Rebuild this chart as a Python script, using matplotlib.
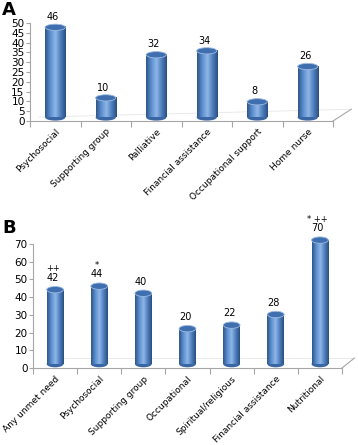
import numpy as np
import matplotlib.pyplot as plt
from matplotlib.patches import Ellipse
from matplotlib.colors import LinearSegmentedColormap

# panel A data
cats_a = ['Psychosocial', 'Supporting group', 'Palliative', 'Financial assistance',
          'Occupational support', 'Home nurse']
vals_a = [46, 10, 32, 34, 8, 26]

# panel B data
cats_b = ['Any unmet need', 'Psychosocial', 'Supporting group', 'Occupational',
          'Spiritual/religious', 'Financial assistance', 'Nutritional']
vals_b = [42, 44, 40, 20, 22, 28, 70]
marks_b = ['++', '*', '', '', '', '', '* ++']

cmap = LinearSegmentedColormap.from_list('cyl', ['#2f5688', '#5b8fd0', '#8fb6e6', '#4f7fbf', '#2a4f80'])
grad = np.linspace(0, 1, 64).reshape(1, -1)


def cylinder_bars(ax, vals, width, lift, eh):
    for i, v in enumerate(vals):
        x0, x1 = i - width / 2, i + width / 2
        bot, top = lift, v + lift
        ax.add_patch(Ellipse((i, bot), width, eh, facecolor='#3a67a3', edgecolor='none',
                             zorder=2, clip_on=False))
        ax.imshow(grad, extent=(x0, x1, bot, top), aspect='auto', cmap=cmap, zorder=3,
                  clip_on=False)
        ax.add_patch(Ellipse((i, top), width, eh, facecolor='#3f6fae', edgecolor='#9cbbe3',
                             lw=0.6, zorder=4, clip_on=False))


def style_axes(ax, n, ymax, step):
    ax.set_xlim(-0.5, n - 0.5)
    ax.set_ylim(0, ymax)
    ax.set_yticks(np.arange(0, ymax + 1, step))
    ax.set_xticks(np.arange(-0.5, n, 1.0))
    ax.set_xticklabels([])
    for s in ['top', 'right']:
        ax.spines[s].set_visible(False)
    for s in ['left', 'bottom']:
        ax.spines[s].set_color('#a6a6a6')
        ax.spines[s].set_linewidth(0.8)
    ax.tick_params(axis='both', colors='#a6a6a6', length=3, width=0.8, labelsize=7.5,
                   labelcolor='black', pad=1)
    ax.tick_params(axis='x', length=4)


fig = plt.figure(figsize=(3.58, 4.45), dpi=100)

# ---- A
ax1 = fig.add_axes([30 / 358, 1 - 121 / 445, 303 / 358, 98 / 445])
style_axes(ax1, len(vals_a), 50, 5)
cylinder_bars(ax1, vals_a, 0.4, 1.8, 3.2)
ax1.set_xlim(-0.5, len(vals_a) - 0.5)
ax1.set_ylim(0, 50)
for i, v in enumerate(vals_a):
    ax1.text(i - 0.05, v + 4.5, str(v), ha='center', va='bottom', fontsize=7)
for i, c in enumerate(cats_a):
    ax1.text(i + 0.0, -3, c, rotation=45, ha='right', va='top', rotation_mode='anchor',
             fontsize=6.5)
ax1.plot([1, 1.06], [0, 0.12], transform=ax1.transAxes, color='#a6a6a6', lw=0.8, clip_on=False)
ax1.plot([0.03, 1.06], [0.04, 0.12], transform=ax1.transAxes, color='#e6e6e6', lw=0.6,
         clip_on=False, zorder=1)
fig.text(2 / 358, 1 - 1 / 445, 'A', fontsize=13, fontweight='bold', va='top')

# ---- B
ax2 = fig.add_axes([33 / 358, 1 - 368 / 445, 309 / 358, 124 / 445])
style_axes(ax2, len(vals_b), 70, 10)
cylinder_bars(ax2, vals_b, 0.38, 2.2, 3.6)
ax2.set_xlim(-0.5, len(vals_b) - 0.5)
ax2.set_ylim(0, 70)
for i, v in enumerate(vals_b):
    ax2.text(i - 0.05, v + 6, str(v), ha='center', va='bottom', fontsize=7)
    if marks_b[i]:
        ax2.text(i - 0.05, v + 11.5, marks_b[i], ha='center', va='bottom', fontsize=6)
for i, c in enumerate(cats_b):
    ax2.text(i + 0.0, -3.5, c, rotation=45, ha='right', va='top', rotation_mode='anchor',
             fontsize=6.5)
ax2.plot([1, 1.04], [0, 0.08], transform=ax2.transAxes, color='#a6a6a6', lw=0.8, clip_on=False)
ax2.plot([0.05, 1.04], [0.08, 0.08], transform=ax2.transAxes, color='#e6e6e6', lw=0.6,
         clip_on=False, zorder=1)
fig.text(2 / 358, 1 - 219 / 445, 'B', fontsize=13, fontweight='bold', va='top')

fig.savefig('out.png', dpi=100)
